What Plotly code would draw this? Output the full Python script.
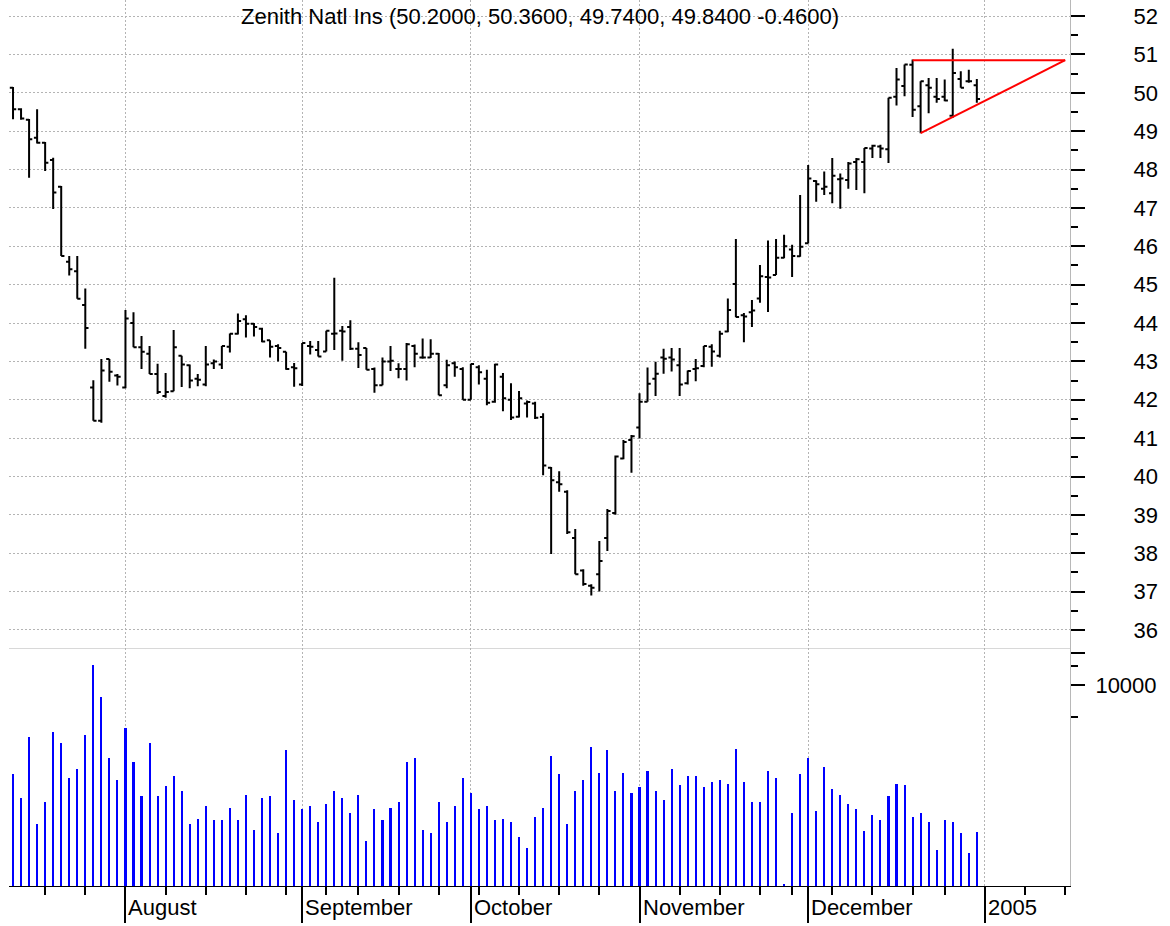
"""Zenith Natl Ins daily bars with volume, Jul 2004 - Dec 2004."""

import pandas as pd
import plotly.graph_objects as go

TITLE = "Zenith Natl Ins (50.2000, 50.3600, 49.7400, 49.8400 -0.4600)"
FONT = "Liberation Sans, Arial, sans-serif"
GRID = "#b4b4b4"

# trading calendar (first bar 13 Jul 2004, axis runs into Jan 2005)
HOLIDAYS = ["2004-09-06", "2004-11-25", "2004-12-24", "2005-01-17"]
MONTH_NAMES = {8: "August", 9: "September", 10: "October",
               11: "November", 12: "December", 1: "2005"}

OPEN = [
    50.13, 49.57, 49.30, 48.83, 48.70, 48.25, 47.55, 45.60, 45.35, 44.47,
    42.32, 41.45, 43.06, 42.63, 42.32, 44.00, 43.37, 43.20, 42.67, 42.10,
    42.22, 43.15, 42.90, 42.55, 42.40, 42.95, 42.92, 43.38, 43.72, 44.10,
    43.98, 43.85, 43.55, 43.40, 43.25, 42.85, 42.40, 43.40, 43.30, 43.26,
    43.72, 43.80, 43.90, 43.33, 43.35, 42.80, 42.38, 43.00, 42.80, 42.80,
    43.40, 43.10, 43.10, 43.20, 42.38, 42.95, 42.80, 42.00, 42.85, 42.55,
    41.95, 42.60, 42.00, 41.56, 41.90, 41.90, 41.55, 40.23, 39.85, 39.60,
    38.40, 37.55, 37.15, 37.45, 38.40, 39.05, 40.47, 40.95, 41.28, 41.95,
    42.55, 43.10, 43.10, 42.90, 42.43, 42.80, 42.88, 43.38, 43.15, 43.78,
    45.02, 44.20, 44.28, 44.64, 45.20, 45.25, 45.70, 45.92, 45.74, 46.08,
    47.70, 47.50, 47.38, 47.75, 47.73, 48.20, 48.20, 48.55, 48.60, 48.53,
    49.90, 50.18, 50.73, 49.65, 50.20, 49.90, 49.90, 49.40, 50.36, 50.30,
    50.20,
]
HIGH = [
    50.15, 49.60, 49.32, 49.57, 48.72, 48.31, 47.57, 45.75, 45.75, 44.90,
    42.51, 43.06, 43.06, 42.67, 44.34, 44.28, 43.66, 43.40, 42.94, 42.70,
    43.82, 43.15, 42.92, 42.67, 43.40, 43.05, 43.40, 43.73, 44.25, 44.20,
    44.00, 43.88, 43.55, 43.45, 43.25, 42.96, 43.48, 43.53, 43.53, 43.80,
    45.18, 43.92, 44.07, 43.50, 43.35, 42.84, 43.10, 43.40, 42.95, 43.48,
    43.44, 43.60, 43.58, 43.22, 43.04, 43.00, 42.85, 42.94, 42.90, 42.78,
    42.94, 42.70, 42.43, 42.23, 41.98, 41.95, 41.65, 40.25, 40.14, 39.64,
    38.63, 37.58, 37.19, 38.32, 39.15, 40.55, 40.95, 41.08, 42.17, 42.84,
    42.99, 43.33, 43.35, 43.35, 42.76, 43.06, 43.40, 43.45, 43.80, 44.64,
    46.19, 44.26, 44.60, 45.51, 46.15, 46.19, 46.30, 46.04, 47.34, 48.12,
    47.72, 47.95, 48.30, 47.90, 48.20, 48.30, 48.56, 48.65, 48.65, 49.87,
    50.65, 50.74, 50.87, 50.30, 50.39, 50.39, 50.35, 51.15, 50.56, 50.60,
    50.36,
]
LOW = [
    49.31, 49.30, 47.79, 48.68, 47.96, 46.97, 45.75, 45.24, 44.63, 43.33,
    41.45, 41.40, 42.47, 42.37, 42.30, 43.37, 42.80, 42.67, 42.15, 42.05,
    42.22, 42.33, 42.30, 42.35, 42.35, 42.80, 42.80, 43.23, 43.70, 43.62,
    43.65, 43.50, 43.10, 43.00, 42.78, 42.34, 42.36, 43.18, 43.13, 43.26,
    43.30, 43.02, 43.30, 42.83, 42.78, 42.18, 42.38, 42.75, 42.56, 42.50,
    42.85, 43.07, 43.09, 42.12, 42.30, 42.60, 42.00, 42.00, 42.40, 41.86,
    41.92, 41.70, 41.47, 41.54, 41.54, 41.50, 40.03, 37.98, 39.60, 38.50,
    37.45, 37.15, 36.90, 37.00, 38.06, 39.00, 40.45, 40.10, 40.99, 41.95,
    42.10, 42.68, 42.74, 42.10, 42.40, 42.48, 42.85, 42.86, 43.10, 43.76,
    44.15, 43.50, 43.90, 44.53, 44.29, 45.25, 45.69, 45.20, 45.73, 46.07,
    47.16, 47.34, 47.12, 46.98, 47.50, 47.47, 47.38, 48.30, 48.30, 48.17,
    49.67, 49.91, 49.37, 48.95, 49.47, 49.74, 49.78, 49.35, 50.13, 50.26,
    49.74,
]
CLOSE = [
    49.57, 49.33, 48.79, 48.70, 48.18, 47.40, 45.75, 45.40, 44.63, 43.87,
    41.45, 42.76, 42.73, 42.60, 44.12, 43.37, 43.25, 42.67, 42.20, 42.20,
    43.37, 42.92, 42.50, 42.52, 42.92, 43.00, 43.40, 43.72, 44.05, 43.98,
    43.90, 43.52, 43.38, 43.35, 42.80, 42.82, 43.48, 43.38, 43.13, 43.80,
    43.73, 43.78, 43.33, 43.17, 42.78, 42.38, 43.00, 43.02, 42.80, 43.45,
    43.20, 43.10, 43.20, 42.12, 42.90, 42.85, 42.00, 42.93, 42.72, 41.92,
    42.92, 42.04, 41.54, 42.04, 41.94, 41.53, 40.29, 39.90, 39.80, 38.55,
    37.45, 37.20, 37.10, 37.80, 39.10, 40.52, 40.90, 41.05, 41.95, 42.42,
    42.68, 43.07, 43.05, 42.40, 42.75, 42.82, 43.40, 43.26, 43.72, 44.34,
    44.16, 44.17, 44.33, 45.22, 45.19, 45.70, 46.00, 45.75, 45.99, 47.77,
    47.62, 47.55, 47.84, 47.77, 48.16, 48.27, 48.56, 48.62, 48.55, 49.87,
    50.35, 50.74, 49.56, 50.30, 50.13, 49.84, 49.80, 50.52, 50.13, 50.30,
    49.84,
]
VOLUME = [
    5560, 4360, 7400, 3080, 4180, 7660, 7110, 5370, 5840, 7490,
    10980, 9400, 6380, 5270, 7840, 6180, 4460, 7110, 4460, 4990,
    5460, 4730, 3080, 3350, 4000, 3270, 3270, 3900, 3270, 4540,
    2800, 4360, 4460, 2620, 6750, 4260, 3810, 4000, 3170, 4080,
    4730, 4360, 3630, 4540, 2260, 3810, 3270, 3900, 4180, 6180,
    6380, 2800, 2620, 4180, 3170, 4000, 5370, 4630, 3810, 4000,
    3270, 3350, 3170, 2440, 1890, 3450, 3900, 6470, 5560, 3080,
    4730, 5270, 6930, 5640, 6750, 4730, 5640, 4630, 4910, 5740,
    4730, 4260, 5820, 5010, 5460, 5460, 4910, 5190, 5270, 5090,
    6830, 5190, 4180, 4180, 5740, 5370, 50, 3630, 5560, 6380,
    3710, 5920, 4830, 4540, 4080, 3810, 2720, 3530, 3270, 4460,
    5090, 5010, 3450, 3630, 3170, 1790, 3270, 3170, 2630, 1630,
    2700,
]

# hand-drawn triangle (bar index, price)
UPPER_X = [112, 131]
UPPER_Y = [50.85, 50.85]
LOWER_X = [113, 131]
LOWER_Y = [48.95, 50.85]

X_RANGE = [-0.5, 131.6]
PRICE_RANGE = [35.53, 52.42]
VOLUME_RANGE = [0, 11840]
VOL_TICKS = [10000, 11590]
VOL_TICKTEXT = ["10000", ""]
VOL_MINOR = [8410, 10950]

dates = pd.bdate_range("2004-07-13", "2005-01-21")
dates = dates[~dates.isin(pd.to_datetime(HOLIDAYS))]
idx = list(range(len(OPEN)))

month_starts = [i for i in range(1, len(dates))
                if dates[i].month != dates[i - 1].month]
week_starts = [i for i in range(1, len(dates))
               if dates[i].isocalendar().week != dates[i - 1].isocalendar().week]

fig = go.Figure()
fig.add_trace(
    go.Ohlc(
        x=idx, open=OPEN, high=HIGH, low=LOW, close=CLOSE,
        increasing_line_color="black", decreasing_line_color="black",
        line_width=2, tickwidth=0.4, hoverinfo="skip",
        xaxis="x", yaxis="y",
    )
)
for tx, ty in ((UPPER_X, UPPER_Y), (LOWER_X, LOWER_Y)):
    fig.add_trace(
        go.Scatter(x=tx, y=ty, mode="lines", line=dict(color="#ff0000", width=2),
                   xaxis="x", yaxis="y", hoverinfo="skip")
    )
fig.add_trace(
    go.Bar(x=idx, y=VOLUME, width=0.26, marker=dict(color="#0000ff", line=dict(width=0)),
           xaxis="x2", yaxis="y2", hoverinfo="skip")
)

split = 238 / 886
tick_font = dict(family=FONT, size=22, color="#000000")

fig.update_layout(
    width=1170,
    height=926,
    margin=dict(l=9, r=100, t=0, b=40),
    paper_bgcolor="white",
    plot_bgcolor="white",
    showlegend=False,
    bargap=0,
    font=tick_font,
    xaxis=dict(
        domain=[0, 1], anchor="y", range=X_RANGE, rangeslider=dict(visible=False),
        tickmode="array", tickvals=month_starts, ticks="", showticklabels=False,
        showgrid=True, gridcolor=GRID, griddash="2px,2px", gridwidth=1,
        showline=True, linecolor="#d8d8d8", linewidth=1, zeroline=False,
    ),
    yaxis=dict(
        domain=[split, 1], anchor="x", side="right", range=PRICE_RANGE,
        tickmode="linear", tick0=0, dtick=1, ticks="outside", ticklen=14,
        tickwidth=2, tickcolor="#000000", tickfont=tick_font, ticklabelstandoff=44,
        minor=dict(dtick=0.5, tick0=0.5, ticks="outside", ticklen=7,
                   tickwidth=2, tickcolor="#000000", showgrid=False),
        showgrid=True, gridcolor=GRID, griddash="2px,2px", gridwidth=1,
        showline=True, linecolor="#b8b8b8", linewidth=1, zeroline=False,
    ),
    xaxis2=dict(
        domain=[0, 1], anchor="y2", range=X_RANGE, rangeslider=dict(visible=False),
        tickmode="array", tickvals=month_starts, ticks="outside", ticklen=36,
        tickwidth=2, tickcolor="#000000", showticklabels=False,
        minor=dict(tickmode="array", tickvals=week_starts, ticks="outside",
                   ticklen=8, tickwidth=2, tickcolor="#000000", showgrid=False),
        showgrid=True, gridcolor=GRID, griddash="2px,2px", gridwidth=1,
        showline=True, linecolor="#000000", linewidth=1, zeroline=False,
    ),
    yaxis2=dict(
        domain=[0, split], anchor="x2", side="right", range=VOLUME_RANGE,
        tickmode="array", tickvals=VOL_TICKS, ticktext=VOL_TICKTEXT,
        ticks="outside", ticklen=14, tickwidth=2, tickcolor="#000000",
        tickfont=tick_font, ticklabelstandoff=6,
        minor=dict(tickmode="array", tickvals=VOL_MINOR, ticks="outside",
                   ticklen=7, tickwidth=2, tickcolor="#000000", showgrid=False),
        showgrid=False, showline=True, linecolor="#b8b8b8", linewidth=1,
        zeroline=False,
    ),
)

fig.add_annotation(
    text=TITLE, xref="paper", yref="paper", x=0.5, y=1, xanchor="center",
    yanchor="top", yshift=-2, showarrow=False,
    font=dict(family=FONT, size=22, color="#000000"),
)

for i in month_starts:
    fig.add_annotation(
        text=MONTH_NAMES[dates[i].month], xref="x2", yref="paper", x=i, y=0,
        xanchor="left", yanchor="top", xshift=1, yshift=-7, showarrow=False,
        font=dict(family=FONT, size=22, color="#000000"),
    )

# the page is photographed at exactly the figure size, so drop the body margin
fig.write_html(
    "out.html",
    config={"displayModeBar": False},
    post_script="document.body.style.margin = '0';",
)
